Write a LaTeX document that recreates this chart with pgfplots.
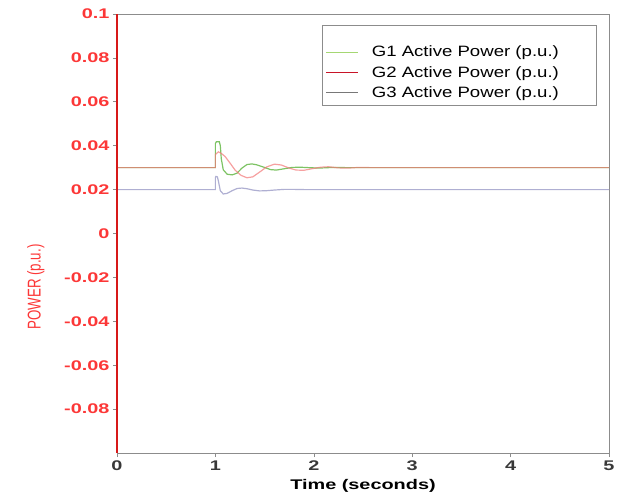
\documentclass[border=0pt]{standalone}
\usepackage{pgfplots}
\pgfplotsset{compat=1.18}
\usepackage{fontspec}
\setmainfont{Liberation Sans}
\newfontfamily\widefont{Liberation Sans}[FakeStretch=1.42]
\newfontfamily\legfont{Liberation Sans}[FakeStretch=1.24]
\newfontfamily\narrowfont{Liberation Sans}[FakeStretch=0.72]
\definecolor{gone}{RGB}{125,195,100}
\definecolor{gtwo}{RGB}{242,120,120}
\definecolor{gthree}{RGB}{175,175,210}
\definecolor{tickred}{RGB}{252,55,55}
\definecolor{axred}{RGB}{215,25,25}
\definecolor{frame}{RGB}{140,140,140}
\definecolor{legone}{RGB}{165,215,115}
\definecolor{legtwo}{RGB}{200,20,40}
\definecolor{legthree}{RGB}{120,120,120}
\begin{document}
\begin{tikzpicture}
\useasboundingbox (-117bp,-40bp) rectangle (514bp,453bp);
\begin{axis}[
  at={(0,0)}, anchor=south west,
  scale only axis, width=492bp, height=439bp,
  xmin=0, xmax=5, ymin=-0.1, ymax=0.1,
  axis line style={frame, line width=0.8pt},
  tick align=outside, tick pos=left,
  major tick length=4bp,
  tick style={frame, line width=0.6pt},
  xtick={0,1,2,3,4,5},
  xticklabels={0,1,2,3,4,5},
  ytick={-0.08,-0.06,-0.04,-0.02,0,0.02,0.04,0.06,0.08,0.1},
  yticklabels={-0.08,-0.06,-0.04,-0.02,0,0.02,0.04,0.06,0.08,0.1},
  x tick label style={font=\fontsize{14bp}{16bp}\widefont\bfseries, text=black!78},
  y tick label style={font=\fontsize{14bp}{16bp}\widefont\bfseries, text=tickred},
  xlabel={Time (seconds)},
  xlabel style={font=\fontsize{14bp}{16bp}\widefont\bfseries, text=black, yshift=-2bp},
  ylabel={POWER (p.u.)},
  ylabel style={font=\fontsize{18.5bp}{20bp}\narrowfont, text=tickred,
    at={(axis description cs:-0.165,0.378)}, anchor=center, rotate=0},
  legend style={at={(0.976,0.975)}, anchor=north east, draw=frame, line width=0.8pt,
    font=\fontsize{15bp}{17bp}\legfont, row sep=4bp, inner xsep=3bp, inner ysep=5bp},
  legend cell align=left,
  legend image code/.code={\draw[#1] (0bp,0bp) -- (32bp,0bp);},
]
\addlegendimage{empty legend}
\addlegendentry{\rule{0pt}{4bp}}

% G1
\addplot[gone, line width=1.2pt,
  legend image post style={draw=legone, line width=1pt, opacity=1}] coordinates {
(0,0.03) (1.0,0.03) (1.0,0.041) (1.01,0.0418) (1.04,0.0418) (1.05,0.040) (1.06,0.034) (1.08,0.029)
(1.12,0.027) (1.17,0.0267) (1.22,0.0275) (1.27,0.0298) (1.32,0.0314) (1.37,0.0317) (1.42,0.0313)
(1.5,0.0301) (1.56,0.0291) (1.62,0.0289) (1.7,0.0295) (1.78,0.0301) (1.86,0.0302) (1.95,0.03)
(2.05,0.0298) (2.2,0.0301) (2.35,0.03) (2.5,0.03) (5,0.03)
};
\addlegendentry{\makebox[231bp][l]{\hspace{11bp}G1 Active Power (p.u.)}}
% G2
\addplot[gtwo, line width=1.2pt, opacity=0.7,
  legend image post style={draw=legtwo, line width=1pt, opacity=1}] coordinates {
(0,0.03) (1.0,0.03) (1.0,0.036) (1.03,0.0372) (1.06,0.0365) (1.1,0.035) (1.15,0.032) (1.2,0.0289)
(1.26,0.0265) (1.32,0.0254) (1.38,0.0258) (1.45,0.028) (1.52,0.0303) (1.6,0.0316) (1.67,0.0312)
(1.75,0.0298) (1.82,0.0289) (1.9,0.0288) (1.98,0.0295) (2.07,0.0302) (2.15,0.0304) (2.25,0.0299)
(2.35,0.0298) (2.45,0.0301) (2.6,0.03) (5,0.03)
};
\addlegendentry{\hspace{11bp}G2 Active Power (p.u.)}
% G3
\addplot[gthree, line width=1.2pt,
  legend image post style={draw=legthree, line width=1pt, opacity=1}] coordinates {
(0,0.02) (1.0,0.02) (1.0,0.0255) (1.005,0.026) (1.02,0.0258) (1.03,0.024) (1.05,0.0195) (1.08,0.018) (1.12,0.0183)
(1.17,0.0195) (1.22,0.0205) (1.27,0.0207) (1.32,0.0204) (1.38,0.0198) (1.45,0.0194) (1.52,0.0195)
(1.6,0.0198) (1.7,0.0201) (1.8,0.0201) (1.9,0.02) (5,0.02)
};
\addlegendentry{\hspace{11bp}G3 Active Power (p.u.)}
\coordinate (LA) at (rel axis cs:0,0);
\coordinate (LB) at (rel axis cs:0,1);
\end{axis}
\draw[axred, line width=1.8pt] (LA) -- (LB);
\end{tikzpicture}
\end{document}
